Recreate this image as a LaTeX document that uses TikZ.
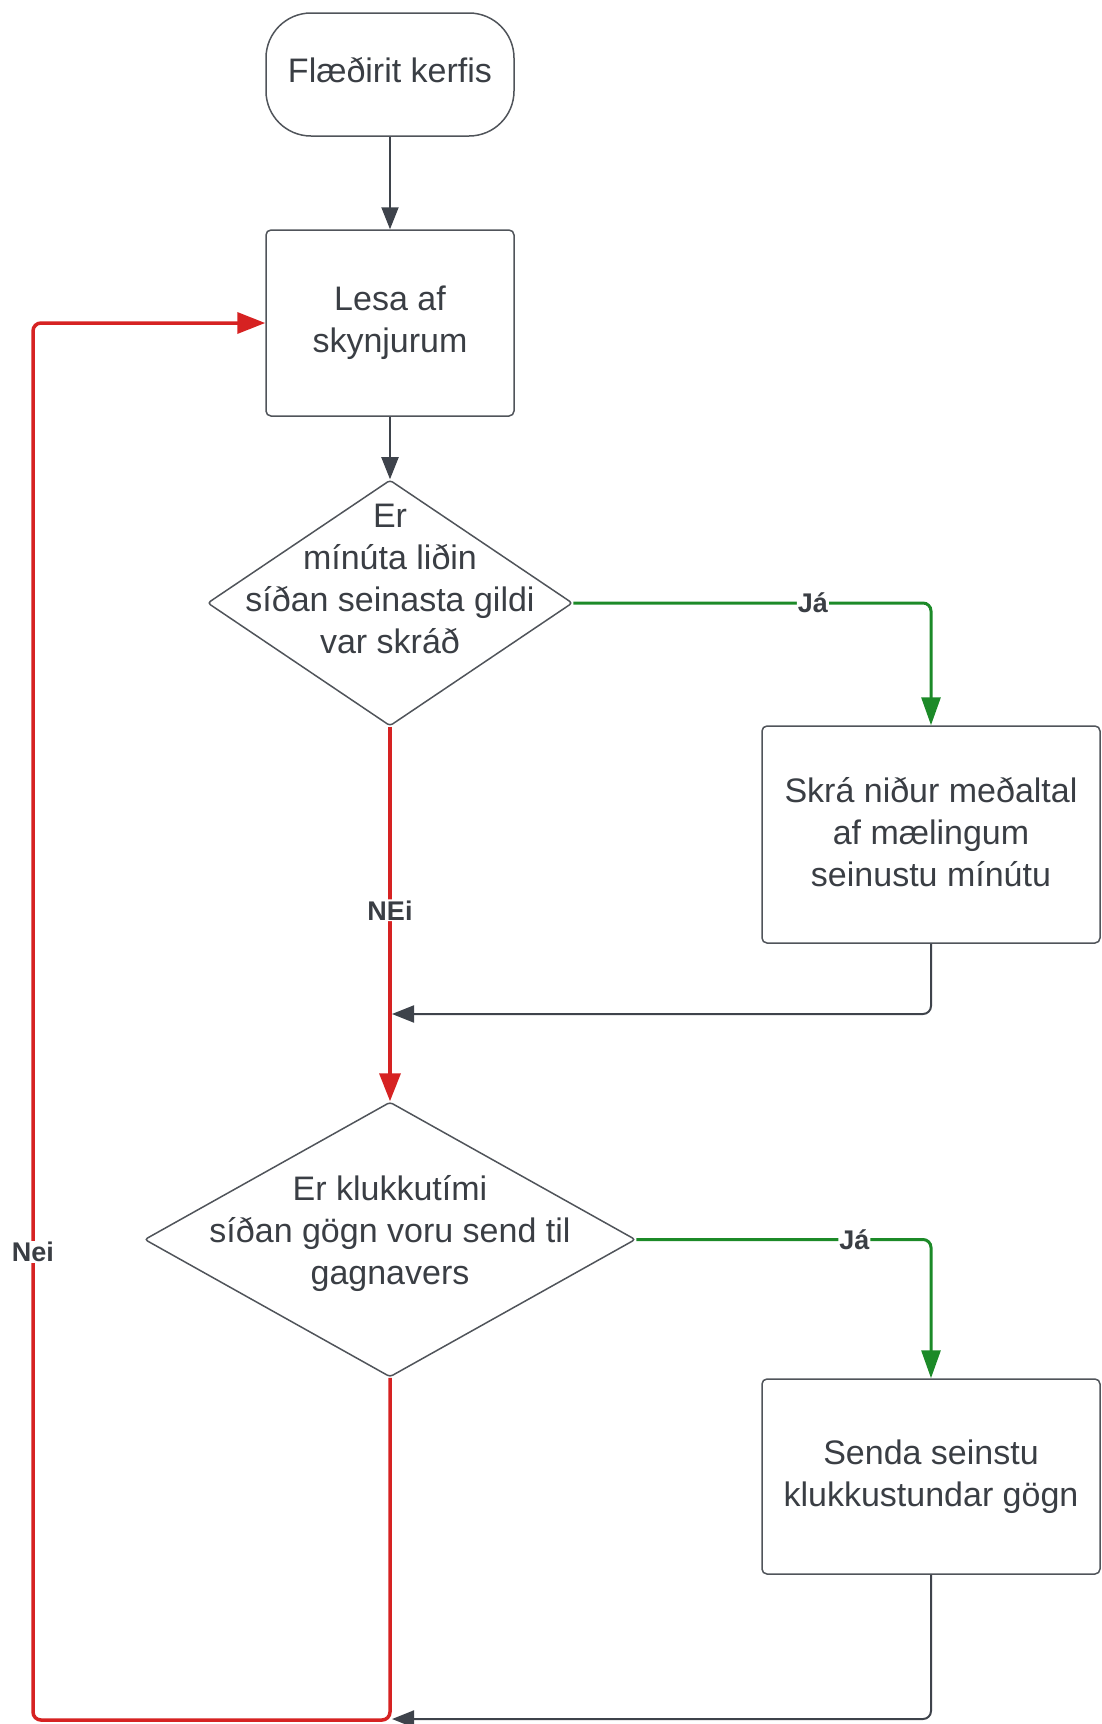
\documentclass[tikz,border=0pt]{standalone}
\usepackage{fontspec}
\setmainfont{Liberation Sans}
\usetikzlibrary{shapes.geometric,arrows.meta}
\definecolor{txt}{RGB}{58,62,68}
\definecolor{edge}{RGB}{80,84,90}
\definecolor{conn}{RGB}{62,67,75}
\definecolor{redc}{RGB}{214,34,34}
\definecolor{greenc}{RGB}{28,138,40}
\begin{document}
\begin{tikzpicture}[x=1pt,y=-1pt,
  every node/.style={text=txt},
  mainfont/.style={font=\fontsize{34}{42}\selectfont, align=center},
  proc/.style={draw=edge, line width=1.5pt, rounded corners=5pt, mainfont, inner sep=0pt},
  term/.style={draw=edge, line width=1.5pt, rounded corners=45pt, mainfont, inner sep=0pt, minimum width=248pt, minimum height=123pt},
  dec/.style={draw=edge, line width=1.5pt, diamond, rounded corners=3pt, inner sep=0pt},
  dtext/.style={mainfont, inner sep=0pt},
  lab/.style={font=\fontsize{27}{32}\selectfont\bfseries, fill=white, inner sep=1pt},
  garrow/.style={draw=conn, line width=2pt, rounded corners=8pt, -{Triangle[length=22pt,width=17pt]}},
  rarrow/.style={draw=redc, line width=3.5pt, rounded corners=8pt, -{Triangle[length=28pt,width=21pt]}},
  yarrow/.style={draw=greenc, line width=3pt, rounded corners=8pt, -{Triangle[length=28pt,width=19pt]}},
]
\useasboundingbox (0,0) rectangle (1102,1724);

% nodes
\node[term] (start) at (390,74.5) {\raisebox{4.5pt}[\height][\depth]{Flæðirit kerfis}};
\node[proc, minimum width=248pt, minimum height=186pt] (read) at (390,323) {Lesa af\\skynjurum};
\node[dec, minimum width=365pt, minimum height=246pt] (d1) at (390,603) {};
\node[dtext] (d1t) at (390,579) {Er\\mínúta liðin\\síðan seinasta gildi\\var skráð};
\node[proc, minimum width=338pt, minimum height=217pt] (rec) at (931,834.5) {\raisebox{-1.5pt}[\height][\depth]{\begin{tabular}{@{}c@{}}Skrá niður meðaltal\\af mælingum\\seinustu mínútu\end{tabular}}};
\node[dec, minimum width=491pt, minimum height=275pt] (d2) at (390,1239.5) {};
\node[dtext] (d2t) at (390,1233) {Er klukkutími\\síðan gögn voru send til\\gagnavers};
\node[proc, minimum width=338pt, minimum height=195pt] (send) at (931,1476.5) {Senda seinstu\\klukkustundar gögn};

% helper coordinates
\coordinate (j1) at (392,1014);
\coordinate (j2) at (392,1719);
\coordinate (c1) at (390,1720);
\coordinate (c2) at (33,1720);
\coordinate (c3) at (33,323);

% connectors
\draw[garrow] (start) -- (read);
\draw[garrow] (read) -- (d1);
\draw[yarrow] (d1.east) -| node[lab, pos=0.335] (ja1) {Já} (rec.north);
\draw[rarrow] (d1.south) -- node[lab, pos=0.49] (nei1) {NEi} (d2.north);
\draw[garrow] (rec.south) |- (j1);
\draw[yarrow] (d2.east) -| node[lab, pos=0.37] (ja2) {Já} (send.north);
\draw[garrow] (send.south) |- (j2);
\draw[rarrow] (d2.south) -- (c1) -- (c2) -- node[lab, pos=0.335] (nei2) {Nei} (c3) -- (read.west);
\end{tikzpicture}
\end{document}
